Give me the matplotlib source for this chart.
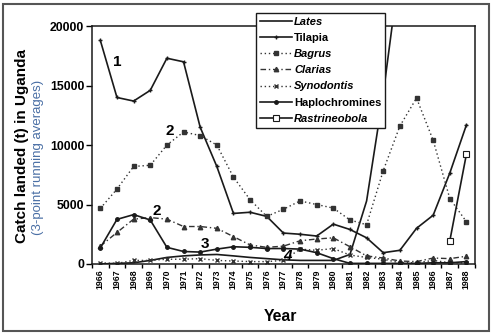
import numpy as np
import matplotlib
matplotlib.use('Agg')
import matplotlib.pyplot as plt
from matplotlib.patches import Rectangle

plt.rcParams['font.family'] = ['Liberation Sans', 'DejaVu Sans']

years = list(range(1966, 1989))

# catch in tonnes, 3-point running averages
lates = [0, 50, 100, 300, 550, 680, 760, 800, 680, 550, 450, 350, 300, 300, 300, 800,
         5300, 14300, 25000, np.nan, np.nan, np.nan, np.nan]
tilapia = [18800, 14000, 13700, 14600, 17300, 17000, 11500, 8200, 4250, 4350, 4000, 2600,
           2500, 2350, 3350, 2900, 2200, 950, 1150, 3000, 4100, 7650, 11700]
bagrus = [4670, 6300, 8200, 8300, 10000, 11100, 10800, 10000, 7300, 5400, 4000, 4600,
          5300, 5000, 4700, 3700, 3300, 7850, 11600, 13950, 10400, 5500, 3550]
clarias = [1500, 2650, 3770, 3900, 3770, 3150, 3150, 3000, 2300, 1600, 1400, 1500,
           1950, 2100, 2200, 1450, 680, 500, 250, 200, 500, 450, 650]
synodontis = [100, 50, 300, 300, 400, 400, 450, 300, 250, 200, 200, 300,
              1250, 1150, 1300, 750, 550, 400, 100, 100, 300, 100, 100]
haplochromines = [1350, 3750, 4150, 3700, 1400, 1050, 1000, 1250, 1450, 1400, 1300, 1300,
                  1250, 950, 450, 50, 50, 50, 50, 50, 100, 100, 200]
rastrineobola = [np.nan] * 21 + [1950, 9250]

fig = plt.figure(figsize=(4.92, 3.35), dpi=100)
ax = fig.add_axes([0.187, 0.212, 0.778, 0.710])

k = '#1a1a1a'
ax.plot(years, lates, color=k, lw=1.2, label='Lates')
ax.plot(years, tilapia, color=k, lw=1.2, marker='+', ms=3.5, mew=1, label='Tilapia')
ax.plot(years, bagrus, color='#333333', lw=1.0, ls=(0, (1, 2)), marker='s', ms=3,
        label='Bagrus')
ax.plot(years, clarias, color='#333333', lw=1.0, ls=(0, (4, 2, 1, 2)), marker='^', ms=3.2,
        label='Clarias')
ax.plot(years, synodontis, color='#333333', lw=1.0, ls=(0, (1, 2)), marker='x', ms=3.5,
        mew=1, label='Synodontis')
ax.plot(years, haplochromines, color=k, lw=1.2, marker='o', ms=2.5, label='Haplochromines')
ax.plot(years, rastrineobola, color=k, lw=1.2, marker='s', ms=4.5, mfc='white', mew=0.8,
        label='Rastrineobola')

ax.set_xlim(1965.5, 1988.5)
ax.set_ylim(0, 20000)
ax.set_yticks([0, 5000, 10000, 15000, 20000])
ax.set_yticklabels(['0', '5000', '10000', '15000', '20000'], fontsize=8.8, fontweight='bold')
ax.tick_params(axis='y', direction='out', length=4, width=1, pad=1.5)
ax.set_xticks(years)
ax.set_xticklabels([str(y) for y in years], rotation=90, fontsize=6.3, fontweight='bold')
ax.tick_params(axis='x', which='major', length=0, pad=4)
ax.set_xticks(np.arange(1965.5, 1989, 1), minor=True)
ax.tick_params(axis='x', which='minor', direction='out', length=3, width=1)
for s in ax.spines.values():
    s.set_linewidth(1.1)
    s.set_color(k)

# curve numbers
ax.text(1967.0, 17000, '1', fontsize=11, fontweight='bold', ha='center', va='center')
ax.text(1970.2, 11200, '2', fontsize=11, fontweight='bold', ha='center', va='center')
ax.text(1969.4, 4470, '2', fontsize=11, fontweight='bold', ha='center', va='center')
ax.text(1972.3, 1660, '3', fontsize=11, fontweight='bold', ha='center', va='center')
ax.text(1977.25, 700, '4', fontsize=11, fontweight='bold', fontstyle='italic',
        ha='center', va='center')

fig.text(0.045, 0.563, 'Catch landed (t) in Uganda', rotation=90, fontsize=11,
         fontweight='bold', ha='center', va='center')
fig.text(0.078, 0.53, '(3-point running averages)', rotation=90, fontsize=9.5,
         color='#4a6fa5', ha='center', va='center')
fig.text(0.569, 0.054, 'Year', fontsize=11.3, fontweight='bold', ha='center', va='center')

leg = fig.legend(loc='upper left', bbox_to_anchor=(0.520, 0.961), bbox_transform=fig.transFigure,
                 fontsize=8, frameon=True, fancybox=False, borderaxespad=0,
                 handlelength=2.9, handletextpad=0.2, labelspacing=0.55, borderpad=0.35)
leg.get_frame().set_edgecolor(k)
leg.get_frame().set_linewidth(1.0)
leg.get_frame().set_alpha(1)
for t in leg.get_texts():
    t.set_fontweight('bold')
    if t.get_text() in ('Lates', 'Bagrus', 'Clarias', 'Synodontis', 'Rastrineobola'):
        t.set_fontstyle('italic')

fig.patches.append(Rectangle((0.006, 0.012), 0.988, 0.976, transform=fig.transFigure,
                             fill=False, edgecolor='#555555', lw=1.5))

fig.savefig('out.png', dpi=100)
